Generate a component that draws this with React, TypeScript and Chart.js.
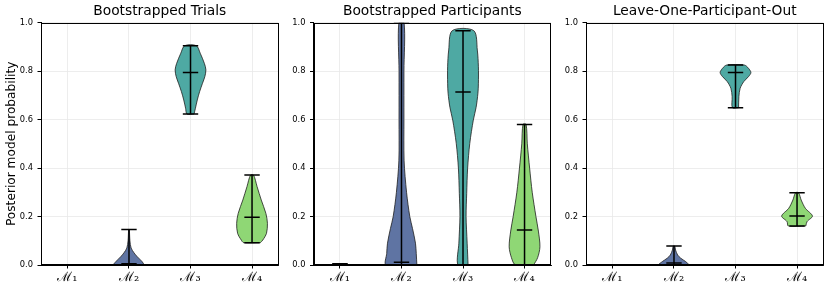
import React, { useEffect, useRef } from 'react';
import { Chart, registerables } from 'chart.js';

Chart.register(...registerables);

// ---------- data ----------
const CATEGORIES = ['ℳ₁', 'ℳ₂', 'ℳ₃', 'ℳ₄'];
const Y_TICKS = [0, 0.2, 0.4, 0.6, 0.8, 1.0];
const PANEL_TITLES = ['Bootstrapped Trials', 'Bootstrapped Participants', 'Leave-One-Participant-Out'];
const Y_TITLE = 'Posterior model probability';

// Bootstrapped Trials
const trialsMin = [0, 0, 0.623, 0.092];
const trialsMax = [0.001, 0.147, 0.905, 0.371];
const trialsMedian = [0, 0.005, 0.794, 0.197];
const trialsM2Y = [0, 0.014, 0.034, 0.05, 0.07, 0.1, 0.147];
const trialsM2D = [1.0, 0.85, 0.54, 0.33, 0.14, 0.06, 0.02];
const trialsM3Y = [0.623, 0.647, 0.681, 0.715, 0.75, 0.777, 0.805, 0.832, 0.874, 0.905];
const trialsM3D = [0.23, 0.32, 0.44, 0.59, 0.78, 0.93, 1.0, 0.9, 0.63, 0.38];
const trialsM4Y = [0.092, 0.103, 0.131, 0.172, 0.213, 0.268, 0.323, 0.371];
const trialsM4D = [0.54, 0.7, 0.94, 1.0, 0.9, 0.6, 0.33, 0.1];

// Bootstrapped Participants
const partMin = [0, 0, 0, 0];
const partMax = [0.005, 1.0, 0.967, 0.58];
const partMedian = [0.003, 0.011, 0.714, 0.144];
const partM2Y = [0, 0.048, 0.09, 0.15, 0.2, 0.3, 0.43, 0.6, 0.8, 1.0];
const partM2D = [1.0, 0.96, 0.91, 0.72, 0.54, 0.33, 0.17, 0.16, 0.16, 0.17];
const partM3Y = [0, 0.09, 0.2, 0.296, 0.4, 0.502, 0.598, 0.65, 0.709, 0.75, 0.818, 0.887, 0.967];
const partM3D = [0.33, 0.27, 0.2, 0.24, 0.3, 0.44, 0.67, 0.85, 0.97, 1.0, 1.0, 0.93, 0.7];
const partM4Y = [0, 0.03, 0.075, 0.14, 0.2, 0.3, 0.4, 0.5, 0.58];
const partM4D = [0.59, 0.85, 1.0, 0.9, 0.74, 0.5, 0.33, 0.18, 0.1];

// Leave-One-Participant-Out
const lopoMin = [0, 0, 0.649, 0.161];
const lopoMax = [0.001, 0.078, 0.825, 0.298];
const lopoMedian = [0, 0.008, 0.794, 0.202];
const lopoM2Y = [0, 0.014, 0.028, 0.041, 0.062, 0.078];
const lopoM2D = [1.0, 0.76, 0.44, 0.24, 0.1, 0.05];
const lopoM3Y = [0.649, 0.695, 0.729, 0.757, 0.777, 0.794, 0.812, 0.825];
const lopoM3D = [0.2, 0.22, 0.3, 0.54, 0.84, 1.0, 0.84, 0.58];
const lopoM4Y = [0.161, 0.179, 0.202, 0.234, 0.268, 0.298];
const lopoM4D = [0.57, 0.65, 1.0, 0.54, 0.27, 0.1];

// ---------- style ----------
const VIOLIN_COLORS = ['#5b3f86', '#5f74a3', '#4ea9a3', '#8fd775'];
const HALF_WIDTH = 0.25;
const CAP_HALF = 0.125;
const FONT = 'DejaVu Sans';

type Profile = { y: number[]; d: number[] } | null;
type Panel = {
  title: string;
  min: number[];
  max: number[];
  median: number[];
  profiles: Profile[];
  showYTitle: boolean;
  left: number;
  width: number;
  axisWidth: number;
  padRight: number;
};

const PANELS: Panel[] = [
  {
    title: PANEL_TITLES[0], min: trialsMin, max: trialsMax, median: trialsMedian,
    profiles: [null, { y: trialsM2Y, d: trialsM2D }, { y: trialsM3Y, d: trialsM3D }, { y: trialsM4Y, d: trialsM4D }],
    showYTitle: true, left: 0, width: 285, axisWidth: 41, padRight: 6.5,
  },
  {
    title: PANEL_TITLES[1], min: partMin, max: partMax, median: partMedian,
    profiles: [null, { y: partM2Y, d: partM2D }, { y: partM3Y, d: partM3D }, { y: partM4Y, d: partM4D }],
    showYTitle: false, left: 272, width: 285, axisWidth: 41.5, padRight: 6,
  },
  {
    title: PANEL_TITLES[2], min: lopoMin, max: lopoMax, median: lopoMedian,
    profiles: [null, { y: lopoM2Y, d: lopoM2D }, { y: lopoM3Y, d: lopoM3D }, { y: lopoM4Y, d: lopoM4D }],
    showYTitle: false, left: 545, width: 285, axisWidth: 41, padRight: 6.5,
  },
];

function buildDatasets(p: Panel) {
  const ds: any[] = [];
  const seg = (pts: { x: number; y: number }[]) => ({
    type: 'scatter',
    data: pts,
    showLine: true,
    borderColor: '#000',
    borderWidth: 1.5,
    pointRadius: 0,
    fill: false,
    tension: 0,
    order: 0,
  });
  for (let i = 0; i < CATEGORIES.length; i++) {
    const pos = i + 1;
    ds.push(seg([{ x: pos, y: p.min[i] }, { x: pos, y: p.max[i] }]));
    ds.push(seg([{ x: pos - CAP_HALF, y: p.min[i] }, { x: pos + CAP_HALF, y: p.min[i] }]));
    ds.push(seg([{ x: pos - CAP_HALF, y: p.max[i] }, { x: pos + CAP_HALF, y: p.max[i] }]));
    ds.push(seg([{ x: pos - CAP_HALF, y: p.median[i] }, { x: pos + CAP_HALF, y: p.median[i] }]));
    const prof = p.profiles[i];
    if (prof) {
      const right = prof.y.map((y, k) => ({ x: pos + prof.d[k] * HALF_WIDTH, y }));
      const left = prof.y.map((y, k) => ({ x: pos - prof.d[k] * HALF_WIDTH, y })).reverse();
      ds.push({
        type: 'scatter',
        data: [...right, ...left, right[0]],
        showLine: true,
        fill: 'shape',
        backgroundColor: VIOLIN_COLORS[i],
        borderColor: '#1e1e1e',
        borderWidth: 0.8,
        pointRadius: 0,
        tension: 0.3,
        order: 1,
      });
    }
  }
  return ds;
}

const framePlugin = {
  id: 'frame',
  afterDatasetsDraw(chart: any) {
    const { ctx, chartArea } = chart;
    ctx.save();
    ctx.strokeStyle = '#000';
    ctx.lineWidth = 1;
    const l = Math.round(chartArea.left) + 0.5;
    const t = Math.round(chartArea.top) + 0.5;
    const r = Math.round(chartArea.right) - 0.5;
    const b = Math.round(chartArea.bottom) - 0.5;
    ctx.strokeRect(l, t, r - l, b - t);
    ctx.restore();
  },
};

function makeChart(canvas: HTMLCanvasElement, p: Panel) {
  const gridCommon = { color: '#e9e9e9', lineWidth: 0.8, tickColor: '#000', tickLength: 3.5, tickWidth: 1 };
  return new Chart(canvas, {
    type: 'scatter',
    data: { datasets: buildDatasets(p) },
    options: {
      responsive: false,
      animation: false,
      devicePixelRatio: 1,
      layout: { padding: { top: 0, left: 0, right: p.padRight, bottom: 0 } },
      plugins: {
        legend: { display: false },
        tooltip: { enabled: false },
        title: {
          display: true,
          text: p.title,
          fullSize: false,
          color: '#000',
          font: { family: FONT, size: 13.8, weight: 'normal' },
          padding: { top: 3.6, bottom: 2.5 },
        },
      },
      scales: {
        x: {
          type: 'linear',
          min: 0.57,
          max: 4.43,
          afterBuildTicks: (s: any) => { s.ticks = CATEGORIES.map((_, i) => ({ value: i + 1 })); },
          afterFit: (s: any) => { s.height = 25; },
          ticks: {
            callback: (_v: any, i: number) => CATEGORIES[i],
            font: { family: 'DejaVu Serif', size: 13 },
            color: '#000',
            padding: 1.5,
            maxRotation: 0,
            autoSkip: false,
          },
          grid: gridCommon,
          border: { color: '#000', width: 1 },
        },
        y: {
          type: 'linear',
          min: 0,
          max: 1,
          afterBuildTicks: (s: any) => { s.ticks = Y_TICKS.map((v) => ({ value: v })); },
          afterFit: (s: any) => { s.width = p.axisWidth; },
          ticks: {
            callback: (v: any) => Number(v).toFixed(1),
            font: { family: FONT, size: 8.3 },
            color: '#000',
            padding: 4.5,
          },
          grid: gridCommon,
          border: { color: '#000', width: 1 },
          title: {
            display: p.showYTitle,
            text: Y_TITLE,
            color: '#000',
            font: { family: FONT, size: 12.2 },
            padding: { top: 4.7, bottom: 0 },
          },
        },
      },
    } as any,
    plugins: [framePlugin],
  } as any);
}

export default function App() {
  const refs = [useRef<HTMLCanvasElement>(null), useRef<HTMLCanvasElement>(null), useRef<HTMLCanvasElement>(null)];
  useEffect(() => {
    Chart.defaults.font.family = FONT;
    const charts = PANELS.map((p, i) => makeChart(refs[i].current as HTMLCanvasElement, p));
    return () => charts.forEach((c) => c.destroy());
  }, []);
  return (
    <div style={{ position: 'absolute', left: 0, top: 0, width: 830, height: 290, overflow: 'hidden', background: '#fff' }}>
      {PANELS.map((p, i) => (
        <canvas
          key={i}
          ref={refs[i]}
          width={p.width}
          height={290}
          style={{ position: 'absolute', left: p.left, top: 0, width: p.width, height: 290 }}
        />
      ))}
    </div>
  );
}
